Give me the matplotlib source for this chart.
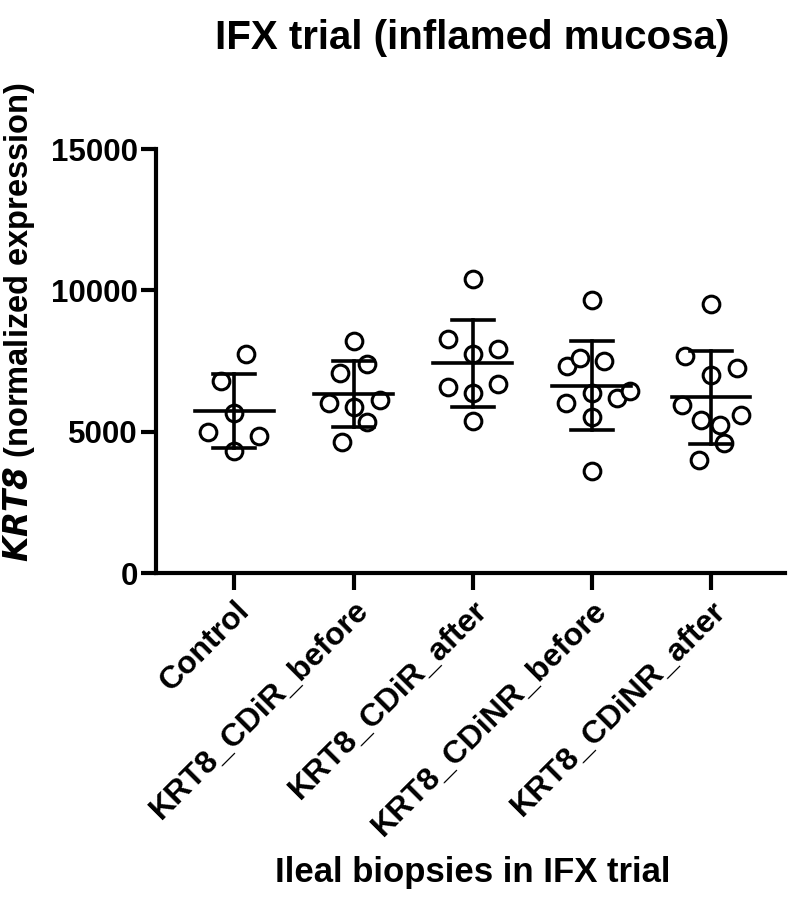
import numpy as np
import matplotlib
matplotlib.use("Agg")
import matplotlib.pyplot as plt

plt.rcParams['font.family'] = ['Liberation Sans', 'DejaVu Sans']
plt.rcParams['font.weight'] = 'bold'

# data
groups = ['Control', 'KRT8_CDiR_before', 'KRT8_CDiR_after',
          'KRT8_CDiNR_before', 'KRT8_CDiNR_after']
control = [7737, 6792, 5671, 4977, 4857, 4327]
cdir_before = [8207, 7382, 7085, 6024, 6120, 5883, 5352, 4623]
cdir_after = [10400, 8277, 7747, 7913, 6590, 6357, 6686, 5377]
cdinr_before = [9657, 7322, 7595, 7510, 6024, 6357, 6201, 6449, 5529, 3608]
cdinr_after = [9505, 7676, 7004, 7241, 5943, 5412, 5589, 5235, 4609, 3997]
values = [control, cdir_before, cdir_after, cdinr_before, cdinr_after]

# horizontal scatter offsets of the points (category units)
jitter = [
    [0.10, -0.11, 0, -0.22, 0.21, 0],
    [0, 0.11, -0.11, -0.21, 0.22, 0, 0.11, -0.10],
    [0, -0.21, 0, 0.21, -0.21, 0, 0.21, 0],
    [0, -0.21, -0.10, 0.10, -0.22, 0, 0.21, 0.32, 0, 0],
    [0, -0.22, 0, 0.22, -0.24, -0.08, 0.25, 0.08, 0.11, -0.10],
]

fig = plt.figure(figsize=(7.91, 9.0), dpi=100)
ax = fig.add_axes([0.197, 0.3633, 0.795, 0.4711])

lw = 2.6
for i, (vals, jit) in enumerate(zip(values, jitter)):
    v = np.array(vals, dtype=float)
    x = i + np.array(jit)
    ax.plot(x, v, 'o', ms=12, mfc='white', mec='black', mew=2.2,
            zorder=2)
    m = v.mean()
    sd = v.std(ddof=1)
    # mean line and SD error bars
    ax.plot([i - 0.33, i + 0.33], [m, m], color='black', lw=lw, zorder=3)
    ax.plot([i, i], [m - sd, m + sd], color='black', lw=lw, zorder=3)
    ax.plot([i - 0.176, i + 0.176], [m + sd, m + sd], color='black', lw=lw, zorder=3)
    ax.plot([i - 0.176, i + 0.176], [m - sd, m - sd], color='black', lw=lw, zorder=3)

ax.set_xlim(-0.66, 4.62)
ax.set_ylim(0, 15000)
ax.set_yticks([0, 5000, 10000, 15000])
ax.set_xticks(range(len(groups)))
ax.set_xticklabels(groups, rotation=45, ha='right', rotation_mode='anchor',
                   fontsize=23, fontweight='bold')
ax.tick_params(axis='y', labelsize=22.5, width=3, length=11, pad=2)
ax.tick_params(axis='x', width=3, length=12, pad=4)
for lab in ax.get_yticklabels():
    lab.set_fontweight('bold')

for s in ['top', 'right']:
    ax.spines[s].set_visible(False)
for s in ['left', 'bottom']:
    ax.spines[s].set_linewidth(3)
ax.spines['left'].set_capstyle('projecting')

fig.text(0.024, 0.642, r'$\bfit{KRT8}$ (normalized expression)', rotation=90,
         ha='center', va='center', fontsize=23.5, fontweight='bold')
fig.text(0.597, 0.958, 'IFX trial (inflamed mucosa)', ha='center', va='center',
         fontsize=29, fontweight='bold')
fig.text(0.598, 0.031, 'Ileal biopsies in IFX trial', ha='center', va='center',
         fontsize=25, fontweight='bold')

fig.savefig('out.png', dpi=100)
